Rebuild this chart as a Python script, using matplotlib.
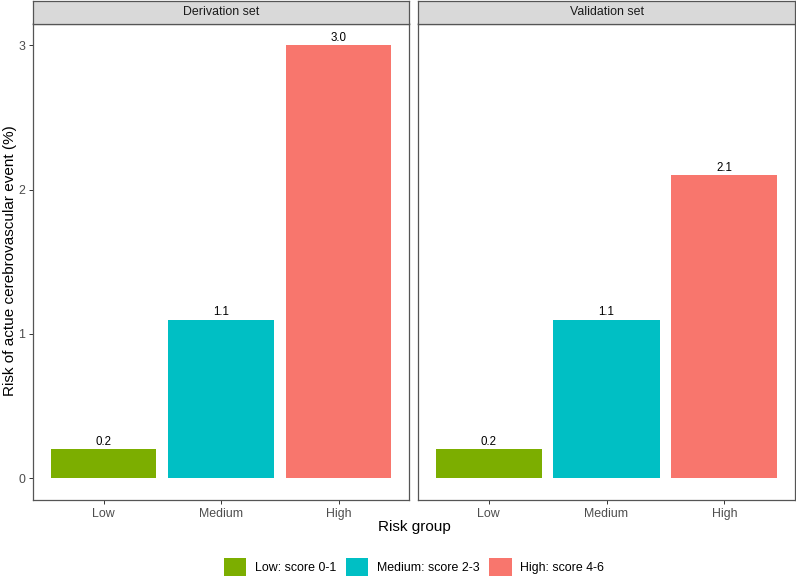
import matplotlib
matplotlib.use("Agg")
import matplotlib.pyplot as plt
from matplotlib.patches import Patch

plt.rcParams['font.family'] = ['Liberation Sans', 'DejaVu Sans']

facets = ["Derivation set", "Validation set"]
categories = ["Low", "Medium", "High"]
derivation_values = [0.2, 1.1, 3.0]
validation_values = [0.2, 1.1, 2.1]
value_labels = {"Derivation set": ["0.2", "1.1", "3.0"],
                "Validation set": ["0.2", "1.1", "2.1"]}
legend_labels = ["Low: score 0-1", "Medium: score 2-3", "High: score 4-6"]
colors = ["#7CAE00", "#00BFC4", "#F8766D"]
y_ticks = [0, 1, 2, 3]

W, H = 796, 584
fig = plt.figure(figsize=(W / 100, H / 100), dpi=100)

border = "#555555"
tickcol = "#4D4D4D"
panels = [(33, 409), (418, 795)]
ptop, pbot = 23.5, 500
stop = 1

data = {"Derivation set": derivation_values, "Validation set": validation_values}
for i, (fname, (x0, x1)) in enumerate(zip(facets, panels)):
    ax = fig.add_axes([x0 / W, 1 - pbot / H, (x1 - x0) / W, (pbot - ptop) / H])
    vals = data[fname]
    xs = list(range(1, len(categories) + 1))
    ax.bar(xs, vals, width=0.9, color=colors, edgecolor='none')
    for x, v, lab in zip(xs, vals, value_labels[fname]):
        ax.annotate(lab, (x, v), xytext=(0, 0.8), textcoords='offset points',
                    ha='center', va='bottom', fontsize=8.3, color='black')
    ax.set_xlim(0.4, 3.6)
    ax.set_ylim(-0.15, 3.15)
    ax.set_xticks(xs)
    ax.set_xticklabels(categories, fontsize=8.9, color=tickcol)
    ax.set_yticks(y_ticks)
    if i == 0:
        ax.set_yticklabels([str(t) for t in y_ticks], fontsize=8.9, color=tickcol)
    else:
        ax.set_yticklabels([])
    ax.tick_params(axis='both', length=3, width=0.7, color="#333333", pad=2.5)
    if i == 1:
        ax.tick_params(axis='y', length=0)
    for s in ax.spines.values():
        s.set_color(border)
        s.set_linewidth(0.9)
    # strip
    sax = fig.add_axes([x0 / W, 1 - ptop / H, (x1 - x0) / W, (ptop - stop) / H])
    sax.set_facecolor("#D9D9D9")
    sax.set_xticks([])
    sax.set_yticks([])
    for s in sax.spines.values():
        s.set_color(border)
        s.set_linewidth(0.9)
    sax.text(0.5, 0.5, fname, ha='center', va='center', fontsize=8.9,
             color="#1A1A1A", transform=sax.transAxes)

fig.text(10 / W, 1 - 261 / H, "Risk of actue cerebrovascular event (%)",
         rotation=90, ha='center', va='center', fontsize=11, color='black')
fig.text(414 / W, 1 - 527 / H, "Risk group", ha='center', va='center',
         fontsize=11, color='black')

handles = [Patch(facecolor=c, edgecolor='none') for c in colors]
fig.legend(handles, legend_labels, loc='center', bbox_to_anchor=(414 / W, 1 - 567 / H),
           ncol=3, frameon=False, fontsize=8.9, handlelength=1.8, handleheight=1.8,
           handletextpad=0.7, columnspacing=0.8, borderpad=0, borderaxespad=0)

fig.savefig("out.png", dpi=100)
